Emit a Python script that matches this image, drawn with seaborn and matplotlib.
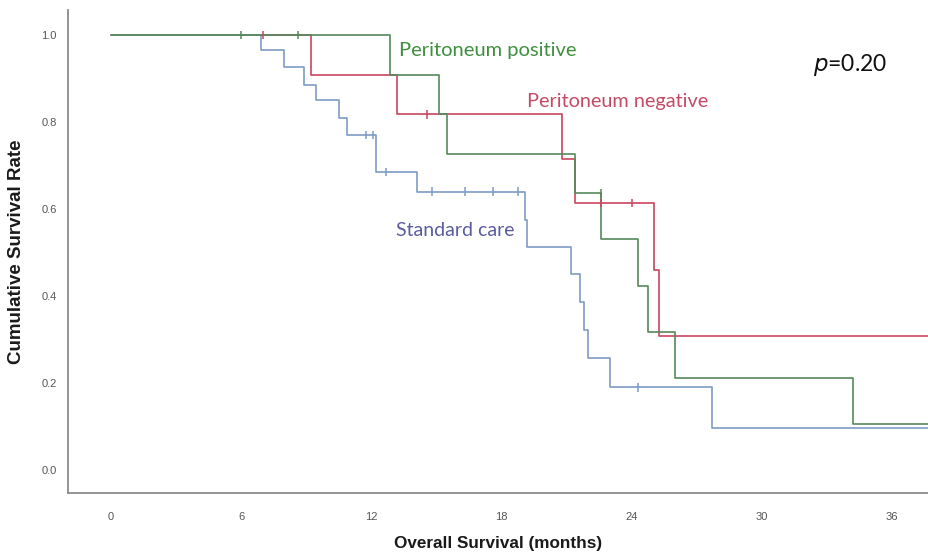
import matplotlib
matplotlib.use("Agg")
import matplotlib.pyplot as plt
import seaborn as sns
import pandas as pd

# step curves (time in months, survival)
pos_time = [0, 12.85, 15.1, 15.5, 21.4, 22.6, 24.3, 24.75, 26.0, 34.2, 38]
pos_surv = [1.0, 0.909, 0.818, 0.727, 0.636, 0.53, 0.424, 0.318, 0.212, 0.106, 0.106]
pos_cens_t = [6.0, 8.6, 22.6]
pos_cens_s = [1.0, 1.0, 0.636]

neg_time = [0, 9.2, 13.2, 20.8, 21.4, 25.05, 25.25, 38]
neg_surv = [1.0, 0.909, 0.818, 0.716, 0.614, 0.46, 0.307, 0.307]
neg_cens_t = [7.0, 14.55, 22.6, 24.0]
neg_cens_s = [1.0, 0.818, 0.614, 0.614]

std_time = [0, 6.9, 8.0, 8.9, 9.45, 10.5, 10.9, 12.2, 14.1, 19.1, 19.2,
            21.2, 21.6, 21.8, 22.0, 23.0, 27.7, 38]
std_surv = [1.0, 0.966, 0.927, 0.885, 0.85, 0.81, 0.77, 0.685, 0.64, 0.575, 0.513,
            0.45, 0.386, 0.322, 0.257, 0.19, 0.097, 0.097]
std_cens_t = [11.75, 12.1, 12.7, 14.8, 16.3, 17.6, 18.75, 24.3]
std_cens_s = [0.77, 0.77, 0.685, 0.64, 0.64, 0.64, 0.64, 0.19]

# drawing order: last one ends up on top
groups = ["Peritoneum negative", "Standard care", "Peritoneum positive"]
line_colors = {"Standard care": "#7d9bc6",
               "Peritoneum positive": "#55895a",
               "Peritoneum negative": "#c8465f"}
text_colors = {"Standard care": "#5a5c9f",
               "Peritoneum positive": "#3f8f3f",
               "Peritoneum negative": "#c44a66"}

curves = pd.concat([
    pd.DataFrame({"t": std_time, "s": std_surv, "group": "Standard care"}),
    pd.DataFrame({"t": pos_time, "s": pos_surv, "group": "Peritoneum positive"}),
    pd.DataFrame({"t": neg_time, "s": neg_surv, "group": "Peritoneum negative"}),
])
cens = pd.concat([
    pd.DataFrame({"t": std_cens_t, "s": std_cens_s, "group": "Standard care"}),
    pd.DataFrame({"t": pos_cens_t, "s": pos_cens_s, "group": "Peritoneum positive"}),
    pd.DataFrame({"t": neg_cens_t, "s": neg_cens_s, "group": "Peritoneum negative"}),
])

sns.set_style("white")
fig = plt.figure(figsize=(9.29, 5.56), dpi=100)
ax = fig.add_axes([68 / 929, 63 / 556, 1 - 68 / 929, 483 / 556])

sns.lineplot(data=curves, x="t", y="s", hue="group", hue_order=groups,
             palette=line_colors, estimator=None, sort=False,
             drawstyle="steps-post", linewidth=1.2, legend=False, ax=ax)
sns.scatterplot(data=cens, x="t", y="s", hue="group", hue_order=groups,
                palette=line_colors, marker="|", s=40, linewidth=1.1,
                legend=False, ax=ax, zorder=3)

ax.set_xlim(-1.98, 37.71)
ax.set_ylim(-0.053, 1.0575)
ax.set_xticks([0, 6, 12, 18, 24, 30, 36])
ax.set_yticks([0.0, 0.2, 0.4, 0.6, 0.8, 1.0])
ax.set_yticklabels(["0.0", "0.2", "0.4", "0.6", "0.8", "1.0"])
ax.tick_params(length=0, labelsize=8, labelcolor="#555555", pad=14)
ax.tick_params(axis="y", pad=8)
for lbl in ax.get_xticklabels() + ax.get_yticklabels():
    lbl.set_family(["Liberation Sans", "DejaVu Sans"])

for side in ["top", "right"]:
    ax.spines[side].set_visible(False)
for side in ["left", "bottom"]:
    ax.spines[side].set_color("#8c8c8c")
    ax.spines[side].set_linewidth(1.3)

lab_font = dict(family=["Liberation Sans", "DejaVu Sans"], weight="bold",
                color="#1a1a1a")
ax.set_xlabel("Overall Survival (months)", labelpad=10, size=12.3, **lab_font)
ax.set_ylabel("Cumulative Survival Rate", labelpad=12, size=13.5, **lab_font)

txt_font = ["Lato", "DejaVu Sans"]
ax.text(13.3, 0.965, "Peritoneum positive", color=text_colors["Peritoneum positive"],
        fontsize=14.5, family=txt_font, va="center", ha="left")
ax.text(19.2, 0.848, "Peritoneum negative", color=text_colors["Peritoneum negative"],
        fontsize=14.3, family=txt_font, va="center", ha="left")
ax.text(13.15, 0.551, "Standard care", color=text_colors["Standard care"],
        fontsize=14, family=txt_font, va="center", ha="left")
ax.text(32.35, 0.93, r"$\mathit{p}$=0.20", color="#111111", fontsize=16.5,
        family=txt_font, va="center", ha="left")

fig.savefig("out.png", dpi=100)
